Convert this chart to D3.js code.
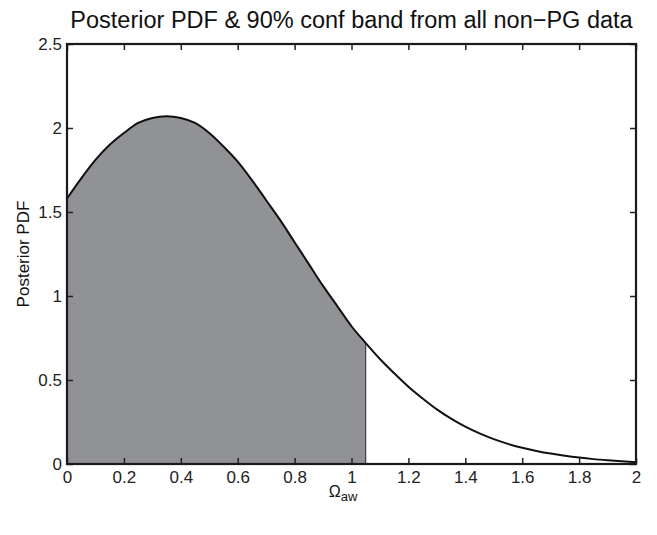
<!DOCTYPE html>
<html><head><meta charset="utf-8">
<script src="https://cdn.jsdelivr.net/npm/d3@7"></script>
<style>body{margin:0;background:#fff;}svg{display:block;font-family:"Liberation Sans",Arial,sans-serif;}</style>
</head><body>
<script>
const xs = [0,0.05,0.1,0.15,0.2,0.25,0.3,0.35,0.4,0.45,0.5,0.55,0.6,0.65,0.7,0.75,0.8,0.85,0.9,0.95,1.0,1.05,1.1,1.15,1.2,1.25,1.3,1.35,1.4,1.45,1.5,1.55,1.6,1.65,1.7,1.75,1.8,1.85,1.9,1.95,2.0];
const pdf = [1.58,1.70,1.81,1.90,1.97,2.03,2.06,2.07,2.06,2.03,1.97,1.89,1.80,1.69,1.57,1.45,1.32,1.19,1.06,0.94,0.82,0.72,0.625,0.54,0.46,0.39,0.325,0.27,0.222,0.182,0.148,0.12,0.097,0.078,0.062,0.049,0.038,0.029,0.022,0.016,0.011];
const bandHi = 1.05;
const xTicks = [0,0.2,0.4,0.6,0.8,1,1.2,1.4,1.6,1.8,2];
const yTicks = [0,0.5,1,1.5,2,2.5];
const title = "Posterior PDF & 90% conf band from all non\u2212PG data";
const yLabel = "Posterior PDF";

const W=657,H=535, L=67,R=636,T=44,B=464;
const svg=d3.select("body").append("svg").attr("width",W).attr("height",H);
const x=d3.scaleLinear().domain([0,2]).range([L,R]);
const y=d3.scaleLinear().domain([0,2.5]).range([B,T]);
const data=xs.map((v,i)=>({x:v,y:pdf[i]}));
const f=d3.scaleLinear().domain(xs).range(pdf);
const band=data.filter(d=>d.x<=bandHi);
if(band[band.length-1].x<bandHi) band.push({x:bandHi,y:f(bandHi)});

svg.append("path").datum(band)
 .attr("d",d3.area().x(d=>x(d.x)).y0(y(0)).y1(d=>y(d.y)).curve(d3.curveMonotoneX))
 .attr("fill","#919296").attr("stroke","none");
svg.append("line").attr("x1",x(bandHi)).attr("x2",x(bandHi)).attr("y1",y(0)).attr("y2",y(f(bandHi)))
 .attr("stroke","#222").attr("stroke-width",1);
svg.append("path").datum(data)
 .attr("d",d3.line().x(d=>x(d.x)).y(d=>y(d.y)).curve(d3.curveMonotoneX))
 .attr("fill","none").attr("stroke","#111").attr("stroke-width",2);

const tl=6, fs=17;
const gx=svg.append("g").attr("transform",`translate(0,${B})`).call(d3.axisBottom(x).tickValues(xTicks).tickFormat(d3.format("")).tickSize(-tl).tickPadding(7));
const gxt=svg.append("g").attr("transform",`translate(0,${T})`).call(d3.axisTop(x).tickValues(xTicks).tickFormat("").tickSize(-tl));
const gy=svg.append("g").attr("transform",`translate(${L},0)`).call(d3.axisLeft(y).tickValues(yTicks).tickFormat(d3.format("")).tickSize(-tl).tickPadding(5));
const gyr=svg.append("g").attr("transform",`translate(${R},0)`).call(d3.axisRight(y).tickValues(yTicks).tickFormat("").tickSize(-tl));
[gx,gxt,gy,gyr].forEach(g=>{g.select(".domain").remove();g.selectAll("line").attr("stroke","#222").attr("stroke-width",1.5);
 g.selectAll("text").attr("font-size",fs).attr("fill","#222").attr("font-family","Liberation Sans, Arial, sans-serif");});
svg.append("rect").attr("x",L).attr("y",T).attr("width",R-L).attr("height",B-T)
 .attr("fill","none").attr("stroke","#1a1a1a").attr("stroke-width",2.2);

svg.append("text").attr("x",(L+R)/2).attr("y",28).attr("text-anchor","middle")
 .attr("font-size",23.5).attr("fill","#111").text(title);
svg.append("text").attr("transform",`translate(29,${(T+B)/2}) rotate(-90)`).attr("text-anchor","middle")
 .attr("font-size",17).attr("fill","#111").text(yLabel);
const xl=svg.append("text").attr("x",343).attr("y",497).attr("text-anchor","middle").attr("fill","#111").attr("font-size",16);
xl.append("tspan").text("\u03A9");
xl.append("tspan").attr("font-size",13).attr("dy",4).text("aw");
</script>
</body></html>
